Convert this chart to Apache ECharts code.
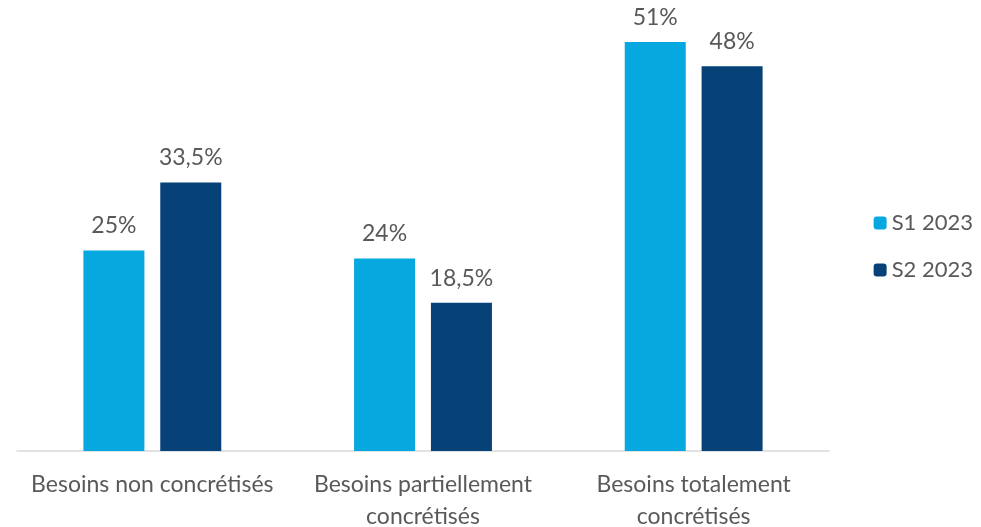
<!DOCTYPE html>
<html>
<head>
<meta charset="utf-8">
<script src="https://cdn.jsdelivr.net/npm/echarts@6/dist/echarts.min.js"></script>
<style>html,body{margin:0;padding:0;background:#fff}#c{width:981px;height:527px}</style>
</head>
<body>
<div id="c"></div>
<script>
const categories = ['Besoins non concrétisés', 'Besoins partiellement\nconcrétisés', 'Besoins totalement\nconcrétisés'];
const seriesNames = ['S1 2023', 'S2 2023'];
const s1Values = [25, 24, 51];
const s2Values = [33.5, 18.5, 48];

const chart = echarts.init(document.getElementById('c'));
const fmt = p => String(p.value).replace('.', ',') + '%';
const labelStyle = { show: true, position: 'top', distance: 13, color: '#595959', fontSize: 23, fontFamily: 'Lato', formatter: fmt };
chart.setOption({
  animation: false,
  textStyle: { fontFamily: 'Lato' },
  grid: { left: 17, right: 152, top: 10, bottom: 76, containLabel: false, outerBoundsMode: 'none' },
  legend: {
    orient: 'vertical', right: 3, top: 207, itemWidth: 13, itemHeight: 13, itemGap: 25,
    textStyle: { color: '#595959', fontSize: 22, fontFamily: 'Lato' },
    data: seriesNames
  },
  xAxis: {
    type: 'category', data: categories,
    axisLine: { lineStyle: { color: '#D9D9D9', width: 1.5 } },
    axisTick: { show: false },
    axisLabel: { color: '#595959', fontSize: 23, fontFamily: 'Lato', margin: 18, lineHeight: 32, interval: 0 }
  },
  yAxis: { type: 'value', min: 0, max: 55, show: false, splitLine: { show: false } },
  series: [
    { name: seriesNames[0], type: 'bar', data: s1Values, barWidth: 61, barGap: '26%', itemStyle: { color: '#07A7DF' }, label: labelStyle },
    { name: seriesNames[1], type: 'bar', data: s2Values, barWidth: 61, itemStyle: { color: '#064278' }, label: labelStyle }
  ]
});
</script>
</body>
</html>
